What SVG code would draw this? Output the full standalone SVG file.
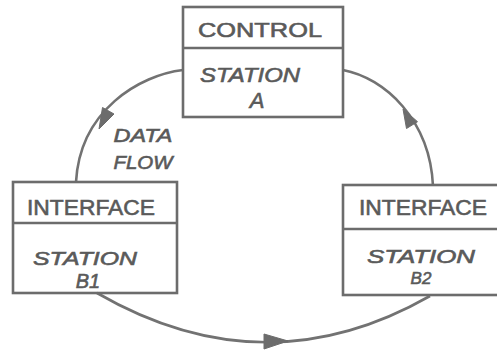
<svg xmlns="http://www.w3.org/2000/svg" width="497" height="352" viewBox="0 0 497 352">
<style>
.box{fill:none;stroke:#6c6c6c;stroke-width:2.6}
.line{fill:none;stroke:#727272;stroke-width:2.6}
.head{fill:#6c6c6c;stroke:#6c6c6c;stroke-width:1;stroke-linejoin:round}
.t{font-family:"Liberation Sans",Arial,sans-serif;fill:#5a5a5a;stroke:#5a5a5a;stroke-width:0.6;text-anchor:middle}
.it{font-style:italic}
</style>
<rect width="497" height="352" fill="#ffffff"/>
<g id="connectors">
<path class="line" d="M183,70 C140,75 80,110 76,182"/>
<path class="line" d="M343,70 C385,78 430,120 433,186"/>
<path class="line" d="M97,293 Q265,390 430,296"/>
<polygon class="head" points="99,129 114,114 102.5,107.5"/>
<polygon class="head" points="403,109 417.5,121.7 406.5,128.5"/>
<polygon class="head" points="288,341 264,334 264,349"/>
</g>
<g id="control">
<rect class="box" x="183" y="7" width="160" height="110"/>
<line class="box" x1="183" y1="48" x2="343" y2="48"/>
<text class="t" x="260" y="37" font-size="21" textLength="124" lengthAdjust="spacingAndGlyphs">CONTROL</text>
<text class="t it" x="250" y="82" font-size="20" textLength="100" lengthAdjust="spacingAndGlyphs">STATION</text>
<text class="t it" x="257" y="108" font-size="22">A</text>
</g>
<g id="dataflow">
<text class="t it" x="143" y="142" font-size="19" textLength="59" lengthAdjust="spacingAndGlyphs">DATA</text>
<text class="t it" x="143" y="169" font-size="19" textLength="59" lengthAdjust="spacingAndGlyphs">FLOW</text>
</g>
<g id="b1">
<rect class="box" x="13" y="182" width="164" height="111"/>
<line class="box" x1="13" y1="223" x2="177" y2="223"/>
<text class="t" x="91" y="215" font-size="22" textLength="128" lengthAdjust="spacingAndGlyphs">INTERFACE</text>
<text class="t it" x="85" y="265" font-size="19" textLength="104" lengthAdjust="spacingAndGlyphs">STATION</text>
<text class="t it" x="88" y="288" font-size="20">B1</text>
</g>
<g id="b2">
<rect class="box" x="343" y="185" width="160" height="110"/>
<line class="box" x1="343" y1="229" x2="503" y2="229"/>
<text class="t" x="423" y="215" font-size="22" textLength="128" lengthAdjust="spacingAndGlyphs">INTERFACE</text>
<text class="t it" x="421" y="263" font-size="18" textLength="108" lengthAdjust="spacingAndGlyphs">STATION</text>
<text class="t it" x="421" y="284" font-size="17">B2</text>
</g>
</svg>
